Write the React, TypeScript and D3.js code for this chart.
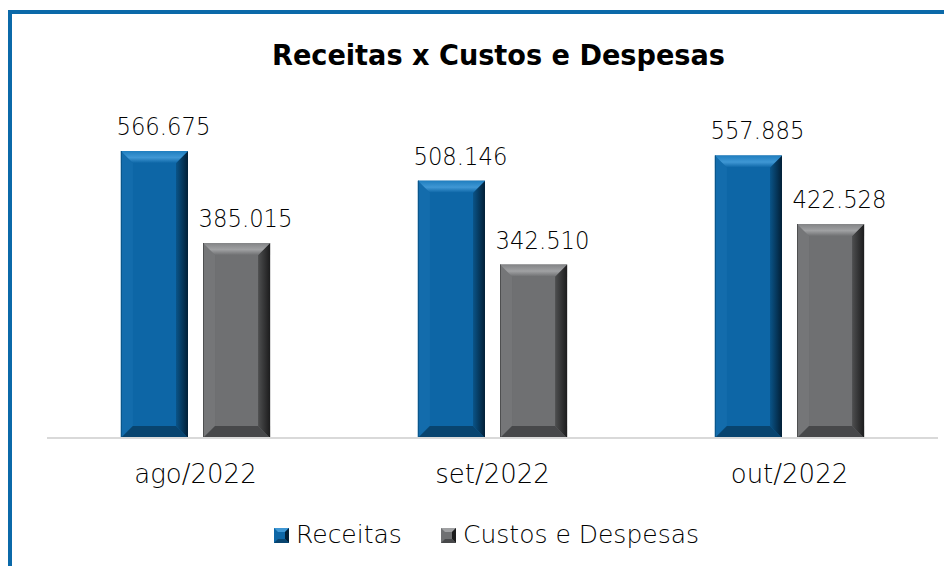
import React from "react";
import * as d3 from "d3";

const categories = ["ago/2022", "set/2022", "out/2022"];
const seriesNames = ["Receitas", "Custos e Despesas"];
const receitas = [566675, 508146, 557885];
const custos = [385015, 342510, 422528];
const titleText = "Receitas x Custos e Despesas";

const W = 944;
const H = 566;
const FONT = "'DejaVu Sans', sans-serif";

const palettes = [
  { face: "#0d66a6", top: "#3f97d4", topMid: "#1f7ebf", left: "#136cac", right0: "#0a5488", right1: "#021f36", bottom: "#08446f" },
  { face: "#6f7072", top: "#a0a1a3", topMid: "#838486", left: "#757678", right0: "#4e4f50", right1: "#1c1c1d", bottom: "#47484a" },
];

const ptBR = d3.formatLocale({ thousands: ".", decimal: ",", grouping: [3], currency: ["R$", ""] });
const fmt = ptBR.format(",d");

function BevelBar({ x, y, w, h, b, s, id }: { x: number; y: number; w: number; h: number; b: number; s: number; id: string }) {
  const p = palettes[s];
  const bb = Math.min(b, h / 2, w / 2);
  const pts = (a: number[][]) => a.map((q) => q.join(",")).join(" ");
  return (
    <g>
      <defs>
        <linearGradient id={`r${id}`} x1="0" y1="0" x2="1" y2="0">
          <stop offset="0" stopColor={p.right0} />
          <stop offset="1" stopColor={p.right1} />
        </linearGradient>
        <linearGradient id={`t${id}`} x1="0" y1="0" x2="0" y2="1">
          <stop offset="0" stopColor={p.topMid} />
          <stop offset="0.55" stopColor={p.top} />
          <stop offset="1" stopColor={p.face} />
        </linearGradient>
        <linearGradient id={`f${id}`} x1="0" y1="0" x2="1" y2="0">
          <stop offset="0" stopColor={p.face} />
          <stop offset="0.85" stopColor={p.face} />
          <stop offset="1" stopColor={p.right0} />
        </linearGradient>
      </defs>
      <rect x={x} y={y} width={w} height={h} fill={`url(#f${id})`} />
      <polygon points={pts([[x, y], [x + bb, y + bb], [x + bb, y + h - bb], [x, y + h]])} fill={p.left} />
      <polygon points={pts([[x + w, y], [x + w, y + h], [x + w - bb, y + h - bb], [x + w - bb, y + bb]])} fill={`url(#r${id})`} />
      <polygon points={pts([[x, y + h], [x + bb, y + h - bb], [x + w - bb, y + h - bb], [x + w, y + h]])} fill={p.bottom} />
      <polygon points={pts([[x, y], [x + w, y], [x + w - bb, y + bb], [x + bb, y + bb]])} fill={`url(#t${id})`} />
      <line x1={x + 0.5} y1={y} x2={x + 0.5} y2={y + h} stroke={p.right0} strokeWidth={1} />
    </g>
  );
}

export default function App() {
  const plotLeft = 47;
  const plotRight = 938;
  const baseline = 438;
  const plotTop = 83.5;

  const x0 = d3.scaleBand<string>().domain(categories).range([plotLeft, plotRight]).paddingInner(0).paddingOuter(0);
  const x1 = d3.scaleBand<string>().domain(seriesNames).range([0, x0.bandwidth()]).paddingInner(0.183).paddingOuter(0.9);
  const y = d3.scaleLinear().domain([0, 700000]).range([baseline, plotTop]);

  const series = [receitas, custos];

  return (
    <svg width={W} height={H} style={{ position: "absolute", left: 0, top: 0, background: "#fff" }} fontFamily={FONT}>
      <rect x={0} y={0} width={W} height={H} fill="#ffffff" />
      <line x1={8} y1={12} x2={W} y2={12} stroke="#0b69a9" strokeWidth={4} />
      <line x1={10} y1={10} x2={10} y2={H} stroke="#0b69a9" strokeWidth={4} />

      <text x={498.5} y={65} textAnchor="middle" fontSize={28} fontWeight="bold" fill="#000" textLength={453} lengthAdjust="spacingAndGlyphs">
        {titleText}
      </text>

      {categories.map((c, ci) =>
        seriesNames.map((sn, si) => {
          const v = series[si][ci];
          const bx = (x0(c) as number) + (x1(sn) as number);
          const bw = x1.bandwidth();
          const by = y(v);
          const bh = baseline - by;
          return (
            <g key={`${c}-${sn}`}>
              <BevelBar x={bx} y={by} w={bw} h={bh} b={12} s={si} id={`${ci}_${si}`} />
              <text x={bx + bw / 2 + 9} y={by - 16} textAnchor="middle" fontSize={25} fontWeight={200} fill="#000" textLength={94} lengthAdjust="spacingAndGlyphs">
                {fmt(v)}
              </text>
            </g>
          );
        })
      )}

      <line x1={plotLeft} y1={baseline} x2={plotRight} y2={baseline} stroke="#d9d9d9" strokeWidth={2} />
      {categories.map((c) => (
        <text key={c} x={(x0(c) as number) + x0.bandwidth() / 2} y={483} textAnchor="middle" fontSize={26} fontWeight={200} fill="#000">
          {c}
        </text>
      ))}

      {(() => {
        const items = [
          { sq: 274, tx: 296 },
          { sq: 441, tx: 463 },
        ];
        return seriesNames.map((sn, si) => {
          const p = palettes[si];
          const sx = items[si].sq;
          const sy = 528;
          const s = 15;
          const m = 4;
          const pts = (a: number[][]) => a.map((q) => q.join(",")).join(" ");
          return (
            <g key={sn}>
              <rect x={sx} y={sy} width={s} height={s} fill={p.face} />
              <polygon points={pts([[sx, sy], [sx + s, sy], [sx + s - m, sy + m], [sx + m, sy + m]])} fill={p.top} />
              <polygon points={pts([[sx + s, sy], [sx + s, sy + s], [sx + s - m, sy + s - m], [sx + s - m, sy + m]])} fill={p.right1} />
              <polygon points={pts([[sx, sy + s], [sx + m, sy + s - m], [sx + s - m, sy + s - m], [sx + s, sy + s]])} fill={p.bottom} />
              <text x={items[si].tx} y={543} fontSize={25} fontWeight={200} fill="#000">
                {sn}
              </text>
            </g>
          );
        });
      })()}
    </svg>
  );
}
